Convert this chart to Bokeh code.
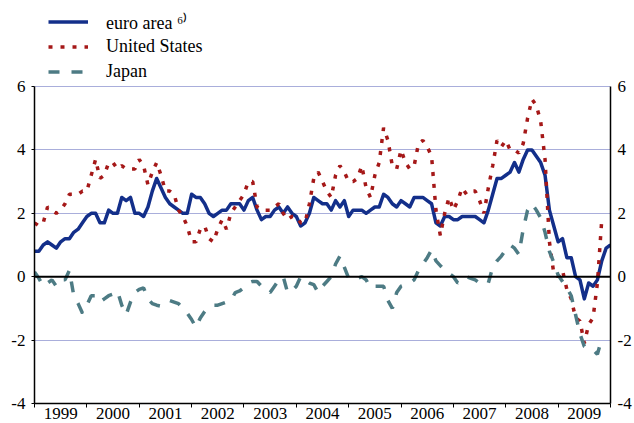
from bokeh.plotting import figure
from bokeh.models import (Range1d, LinearAxis, FixedTicker, Legend, LegendItem, Span,
                          CustomJSTickFormatter)
from bokeh.embed import file_html
from bokeh.resources import INLINE

# Monthly annual % changes, starting January 1999
euro_area = [
    0.8, 0.8, 1.0, 1.1, 1.0, 0.9, 1.1, 1.2, 1.2, 1.4, 1.5, 1.7,
    1.9, 2.0, 2.0, 1.7, 1.7, 2.1, 2.0, 2.0, 2.5, 2.4, 2.5, 2.0,
    2.0, 1.9, 2.2, 2.7, 3.1, 2.8, 2.5, 2.3, 2.2, 2.1, 2.0, 2.0,
    2.6, 2.5, 2.5, 2.3, 2.0, 1.9, 2.0, 2.1, 2.1, 2.3, 2.3, 2.3,
    2.1, 2.4, 2.5, 2.1, 1.8, 1.9, 1.9, 2.1, 2.2, 2.0, 2.2, 2.0,
    1.9, 1.6, 1.7, 2.0, 2.5, 2.4, 2.3, 2.3, 2.1, 2.4, 2.2, 2.4,
    1.9, 2.1, 2.1, 2.1, 2.0, 2.1, 2.2, 2.2, 2.6, 2.5, 2.3, 2.2,
    2.4, 2.3, 2.2, 2.5, 2.5, 2.5, 2.4, 2.3, 1.7, 1.6, 1.9, 1.9,
    1.8, 1.8, 1.9, 1.9, 1.9, 1.9, 1.8, 1.7, 2.1, 2.6, 3.1, 3.1,
    3.2, 3.3, 3.6, 3.3, 3.7, 4.0, 4.0, 3.8, 3.6, 3.2, 2.1, 1.6,
    1.1, 1.2, 0.6, 0.6, 0.0, -0.1, -0.7, -0.2, -0.3, -0.1, 0.5, 0.9,
    1.0,
]

united_states = [
    1.7, 1.6, 1.7, 2.2, 2.1, 2.0, 2.1, 2.3, 2.6, 2.6, 2.6, 2.7,
    2.7, 3.2, 3.7, 3.1, 3.2, 3.6, 3.6, 3.4, 3.5, 3.4, 3.4, 3.4,
    3.7, 3.5, 2.9, 3.3, 3.6, 3.2, 2.7, 2.7, 2.6, 2.1, 1.9, 1.6,
    1.1, 1.1, 1.5, 1.6, 1.2, 1.1, 1.5, 1.8, 1.5, 2.0, 2.2, 2.4,
    2.6, 3.0, 3.0, 2.2, 2.1, 2.1, 2.1, 2.2, 2.3, 2.0, 1.8, 1.9,
    1.9, 1.7, 1.7, 2.3, 3.1, 3.3, 3.0, 2.7, 2.5, 3.2, 3.5, 3.3,
    3.0, 3.0, 3.1, 3.5, 2.8, 2.5, 3.2, 3.6, 4.7, 4.3, 3.5, 3.4,
    4.0, 3.6, 3.4, 3.5, 4.2, 4.3, 4.1, 3.8, 2.1, 1.3, 2.0, 2.5,
    2.1, 2.4, 2.8, 2.6, 2.7, 2.7, 2.4, 2.0, 2.8, 3.5, 4.3, 4.1,
    4.3, 4.0, 4.0, 3.9, 4.2, 5.0, 5.6, 5.4, 4.9, 3.7, 1.1, 0.1,
    0.0, 0.2, -0.4, -0.7, -1.3, -1.4, -2.1, -1.5, -1.3, -0.2, 1.8,
]

japan = [
    0.15, -0.05, -0.3, -0.2, -0.1, -0.3, -0.1, -0.1, 0.2, -0.6, -0.85, -1.15,
    -0.9, -0.6, -0.6, -0.8, -0.7, -0.6, -0.55, -0.45, -0.9, -1.2, -0.8, -0.5,
    -0.4, -0.35, -0.7, -0.85, -0.9, -0.93, -0.8, -0.75, -0.8, -0.85, -1.0, -1.15,
    -1.35, -1.6, -1.3, -1.1, -0.95, -0.9, -0.9, -0.85, -0.8, -0.75, -0.5, -0.45,
    -0.35, -0.2, -0.15, -0.15, -0.3, -0.4, -0.5, -0.3, -0.1, 0.0, -0.5, -0.45,
    -0.3, 0.0, -0.1, -0.2, -0.25, -0.5, -0.3, -0.15, 0.0, 0.4, 0.65, 0.3,
    -0.05, -0.1, -0.05, 0.0, -0.1, -0.35, -0.3, -0.3, -0.3, -0.75, -1.0, -0.5,
    -0.3, -0.25, -0.2, -0.1, 0.2, 0.4, 0.6, 0.85, 0.5, 0.35, 0.2, 0.1,
    0.0, -0.2, -0.1, 0.0, -0.05, -0.1, -0.2, -0.25, -0.2, 0.3, 0.5, 0.65,
    0.85, 1.0, 0.9, 0.7, 1.5, 2.1, 2.3, 2.1, 1.85, 1.4, 0.8, 0.45,
    0.05, -0.15, -0.35, -0.6, -1.2, -1.8, -2.2, -2.25, -2.3, -2.45, -1.95,
]

year_labels = ["1999", "2000", "2001", "2002", "2003", "2004",
               "2005", "2006", "2007", "2008", "2009"]
y_ticks = [-4, -2, 0, 2, 4, 6]
y_tick_labels = ["-4", "-2", "0", "2", "4", "6"]
grid_levels = [-2, 2, 4, 6]
series_names = ["euro area \u2076\u207e", "United States", "Japan"]

FONT = "Liberation Serif"
BLUE = "#132f8a"
RED = "#a51818"
TEAL = "#4d7b84"

# layout (pixels): frame starts at the top so the legend can sit above the 6-line
FRAME_H = 403       # frame bottom = y value -4
TOP_LINE = 86       # pixel row of y value 6
LEGEND_H = 75
LEGEND_TOP = 9
y_lo, y_hi = y_ticks[0], y_ticks[-1]
y_end = y_lo + (y_hi - y_lo) * FRAME_H / (FRAME_H - TOP_LINE)

n_months = 12 * len(year_labels)
year_mid = [12 * i + 6 for i in range(len(year_labels))]
year_edges = [12 * i for i in range(len(year_labels) + 1)]

p = figure(width=634, frame_height=FRAME_H,
           output_backend="svg", toolbar_location=None,
           x_range=Range1d(0, n_months), y_range=Range1d(y_lo, y_end),
           min_border_left=34, min_border_right=0, min_border_top=0,
           min_border_bottom=0)
p.outline_line_color = None
p.background_fill_color = "white"
p.border_fill_color = "white"

year_fmt = CustomJSTickFormatter(args=dict(labels=year_labels),
                                 code="return labels[Math.floor(tick / 12)];")
y_fmt = CustomJSTickFormatter(args=dict(labels=y_tick_labels, tvals=y_ticks),
                              code="return labels[tvals.indexOf(tick)];")

# x axis: labels mid-year, tick marks at year boundaries
xa = p.xaxis[0]
xa.ticker = FixedTicker(ticks=year_mid, minor_ticks=year_edges)
xa.formatter = year_fmt
xa.major_tick_out = 0
xa.major_tick_in = 0
xa.minor_tick_out = 4
xa.minor_tick_in = 0
xa.minor_tick_line_color = "black"
xa.minor_tick_line_width = 1
xa.axis_line_color = "black"
xa.axis_line_width = 1.5
xa.major_label_standoff = 0
xa.major_label_text_font = FONT
xa.major_label_text_font_size = "17px"
xa.major_label_text_color = "black"

ya = p.yaxis[0]
ya.ticker = FixedTicker(ticks=y_ticks)
ya.formatter = y_fmt
ya.bounds = (y_lo, y_hi)
ya.major_tick_out = 3
ya.major_tick_in = 0
ya.minor_tick_line_color = None
ya.axis_line_color = "black"
ya.axis_line_width = 1.5
ya.major_label_standoff = 6
ya.major_label_text_font = FONT
ya.major_label_text_font_size = "17px"
ya.major_label_text_color = "black"

ra = LinearAxis(ticker=FixedTicker(ticks=y_ticks), bounds=(y_lo, y_hi),
                formatter=CustomJSTickFormatter(args=dict(labels=y_tick_labels, tvals=y_ticks),
                                                code="return labels[tvals.indexOf(tick)];"))
ra.major_tick_out = 0
ra.major_tick_in = 0
ra.minor_tick_line_color = None
ra.axis_line_color = "black"
ra.axis_line_width = 1.5
ra.major_label_standoff = 7
ra.major_label_text_font = FONT
ra.major_label_text_font_size = "17px"
ra.major_label_text_color = "black"
p.add_layout(ra, "right")

p.xgrid.visible = False
p.ygrid.ticker = FixedTicker(ticks=grid_levels)
p.ygrid.grid_line_color = "#a9aedb"
p.ygrid.grid_line_width = 1.2

p.add_layout(Span(location=0, dimension="width", line_color="black", line_width=2))

x_eu = list(range(len(euro_area)))
x_us = list(range(len(united_states)))
x_jp = list(range(len(japan)))

r_eu = p.line(x_eu, euro_area, line_color=BLUE, line_width=3.5, line_join="round")
r_us = p.line(x_us, united_states, line_color=RED, line_width=3.5, line_dash="4 8")
r_jp = p.line(x_jp, japan, line_color=TEAL, line_width=3.5, line_dash="11 12")

legend = Legend(items=[LegendItem(label=series_names[0], renderers=[r_eu]),
                       LegendItem(label=series_names[1], renderers=[r_us]),
                       LegendItem(label=series_names[2], renderers=[r_jp])],
                location=(14, FRAME_H - LEGEND_H - LEGEND_TOP), orientation="vertical",
                glyph_width=40, glyph_height=25, label_height=25,
                label_standoff=18, spacing=0, padding=0, margin=0,
                label_text_font=FONT, label_text_font_size="18px",
                label_text_color="black",
                border_line_color=None, background_fill_alpha=0)
p.add_layout(legend)

open("out.html", "w").write(file_html(p, INLINE))
